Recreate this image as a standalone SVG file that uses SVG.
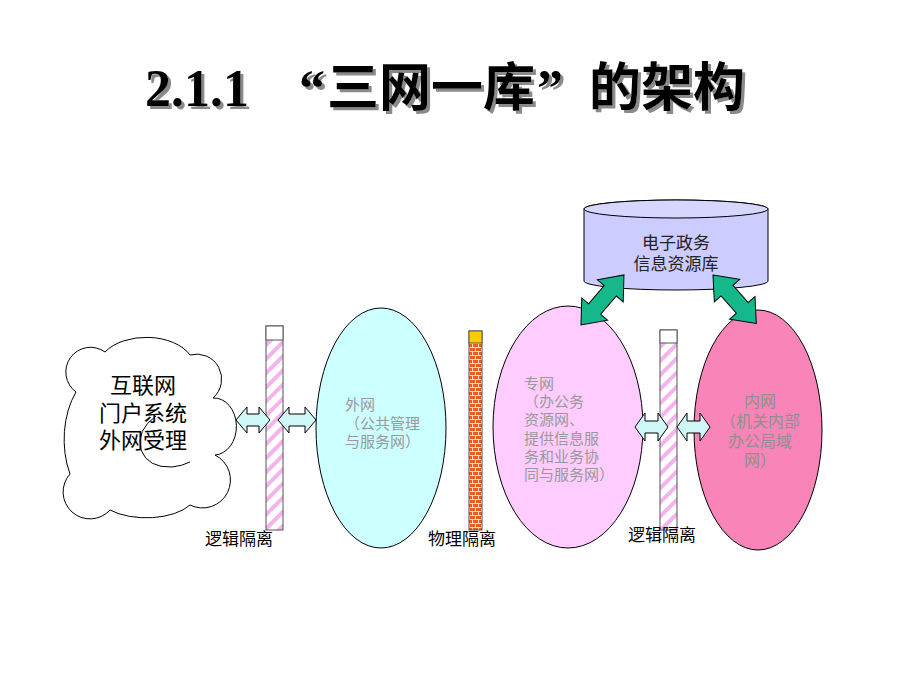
<svg xmlns="http://www.w3.org/2000/svg" width="920" height="690" viewBox="0 0 920 690">
<defs>
<style>
.title{font-family:"Liberation Serif","Noto Sans CJK SC",serif;font-weight:bold;font-size:52px}
.cjk{font-family:"Noto Sans CJK SC",sans-serif}
.node{stroke:#000;stroke-width:1}
.inner{fill:#999;font-size:15px}
.lbl{fill:#000;font-size:17px}
.harrow{fill:#CFF7F7;stroke:#000;stroke-width:1}
.garrow{fill:#14B88A;stroke:#000;stroke-width:1}
.bar{stroke:#555;stroke-width:1}
</style>
<filter id="shadow" x="-5%" y="-20%" width="110%" height="140%">
<feDropShadow dx="3" dy="3" stdDeviation="0.7" flood-color="#8a8a8a" flood-opacity="1"/>
</filter>
<pattern id="hatch" patternUnits="userSpaceOnUse" width="10" height="10" patternTransform="rotate(45)">
<rect width="10" height="10" fill="#fff"/>
<rect width="4" height="10" fill="#F5B3EE"/>
</pattern>
<pattern id="brick" patternUnits="userSpaceOnUse" x="469" y="343" width="12" height="8">
<rect width="12" height="8" fill="#EE5A1A"/>
<path d="M0 0.5H12M0 4.5H12M3.5 0.5V4.5M9.5 0.5V4.5M0.5 4.5V8.5M6.5 4.5V8.5" stroke="#FFE2C8" stroke-width="1" fill="none"/>
</pattern>
</defs>
<rect width="920" height="690" fill="#fff"/>

<g id="title" filter="url(#shadow)">
<text class="title" y="106" fill="#000"><tspan x="145">2.1.1</tspan><tspan x="299">“</tspan><tspan x="327">三</tspan><tspan x="379">网</tspan><tspan x="431">一</tspan><tspan x="483">库</tspan><tspan x="537">”</tspan><tspan x="589">的</tspan><tspan x="641">架</tspan><tspan x="693">构</tspan></text>
</g>

<g id="internet">
<path class="node" fill="#fff" d="M76 392 A22 22 0 0 1 105 352 A48 30 0 0 1 190 355 A25 25 0 0 1 213 398 A22 28 0 0 1 215 455 A25 25 0 0 1 190 505 A50 25 0 0 1 110 510 A25 25 0 0 1 70 474 A45 70 0 0 1 76 392 Z"/>
<path d="M156 416 Q136 430 141 450 Q148 468 172 467 Q182 466 190 462" fill="none" stroke="#000" stroke-width="1"/>
<text class="cjk" font-size="22" text-anchor="middle" fill="#000"><tspan x="143" y="393">互联网</tspan><tspan x="143" y="421">门户系统</tspan><tspan x="143" y="448">外网受理</tspan></text>
</g>

<g id="barrier-left">
<rect class="bar" x="266" y="326" width="17" height="204" fill="url(#hatch)"/>
<rect class="bar" x="266" y="326" width="17" height="14" fill="#fff"/>
<text class="cjk lbl" x="205" y="545">逻辑隔离</text>
</g>

<g id="extranet">
<ellipse class="node" cx="381" cy="428" rx="65" ry="120" fill="#CCFFFF"/>
<text class="cjk inner"><tspan x="345" y="410">外网</tspan><tspan x="345" y="429">（公共管理</tspan><tspan x="345" y="447">与服务网）</tspan></text>
</g>

<g id="barrier-physical">
<rect class="bar" x="469" y="331" width="13" height="199" fill="url(#brick)"/>
<rect class="bar" x="469" y="331" width="13" height="12" fill="#FFCC00"/>
<text class="cjk lbl" x="428" y="545">物理隔离</text>
</g>

<g id="private-net">
<ellipse class="node" cx="568" cy="427" rx="75" ry="121" fill="#FFCCFF"/>
<text class="cjk inner"><tspan x="524" y="389">专网</tspan><tspan x="524" y="407">（办公务</tspan><tspan x="524" y="425">资源网、</tspan><tspan x="524" y="444">提供信息服</tspan><tspan x="524" y="462">务和业务协</tspan><tspan x="524" y="480">同与服务网）</tspan></text>
</g>

<g id="barrier-right">
<rect class="bar" x="660" y="330" width="17" height="200" fill="url(#hatch)"/>
<rect class="bar" x="660" y="330" width="17" height="13" fill="#fff"/>
<text class="cjk lbl" x="628" y="541">逻辑隔离</text>
</g>

<g id="intranet">
<ellipse class="node" cx="758" cy="430" rx="64" ry="120" fill="#F984B8"/>
<text class="cjk" font-size="16" fill="#8f8f8f" text-anchor="middle"><tspan x="760" y="407">内网</tspan><tspan x="760" y="427">（机关内部</tspan><tspan x="760" y="447">办公局域</tspan><tspan x="760" y="466">网）</tspan></text>
</g>

<g id="database">
<path class="node" fill="#CCCCFF" d="M584 209 A92 9 0 0 1 768 209 V281 A92 9 0 0 1 584 281 Z"/>
<ellipse class="node" cx="676" cy="209" rx="92" ry="9" fill="#D6D6FF"/>
<text class="cjk" font-size="17" fill="#222" text-anchor="middle"><tspan x="676" y="249">电子政务</tspan><tspan x="676" y="270">信息资源库</tspan></text>
</g>

<g id="connectors">
<polygon class="harrow" points="236,420 247,407 247,414 259,414 259,407 270,420 259,433 259,426 247,426 247,433"/>
<polygon class="harrow" points="278,420 289,407 289,414 305,414 305,407 316,420 305,433 305,426 289,426 289,433"/>
<polygon class="harrow" points="635,427 645,413 645,421 658,421 658,413 668,427 658,441 658,433 645,433 645,441"/>
<polygon class="harrow" points="677,427 687,413 687,421 700,421 700,413 710,427 700,441 700,433 687,433 687,441"/>
<polygon class="garrow" transform="translate(581,325) rotate(-49.4)" points="0,0 21,-17 21,-8 45,-8 45,-17 66,0 45,17 45,8 21,8 21,17"/>
<polygon class="garrow" transform="translate(713,275) rotate(48.2)" points="0,0 21,-17 21,-8 44,-8 44,-17 65,0 44,17 44,8 21,8 21,17"/>
</g>
</svg>
